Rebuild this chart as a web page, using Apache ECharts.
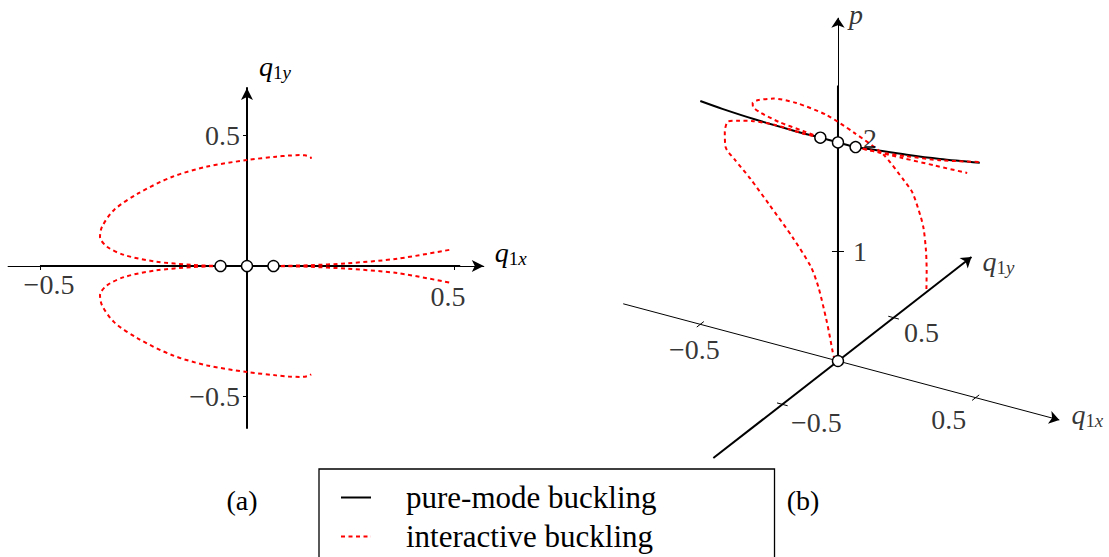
<!DOCTYPE html>
<html>
<head>
<meta charset="utf-8">
<script src="https://cdn.jsdelivr.net/npm/echarts@6/dist/echarts.min.js"></script>
<style>
  html, body { margin: 0; padding: 0; background: #fff; }
  #chart { width: 1109px; height: 557px; }
</style>
</head>
<body>
<div id="chart"></div>
<script>
// ---- data -------------------------------------------------------------
// Pure-mode path (q1y = 0): load p against q1x
const pureQx = [-0.50, -0.42, -0.30, -0.17, -0.064, 0.0, 0.064, 0.10, 0.25, 0.37, 0.515];
const pureP  = [2.043, 2.025, 2.008, 2.000, 2.000, 2.000, 2.000, 2.012, 2.055, 2.097, 2.160];

// Fundamental path along the load axis (q1x = q1y = 0)
const fundamentalP = [0, 2.52];

// Interactive paths, points are [q1x, q1y, p]
const interLeftUpper = [
  [-0.064, 0.000, 2.000], [-0.129, 0.004, 2.015], [-0.221, 0.017, 2.025],
  [-0.296, 0.042, 2.037], [-0.338, 0.074, 2.038], [-0.355, 0.112, 2.034],
  [-0.350, 0.151, 2.033], [-0.321, 0.215, 2.015], [-0.263, 0.278, 1.963],
  [-0.180, 0.342, 1.859], [-0.096, 0.381, 1.723], [0.000, 0.406, 1.569],
  [0.071, 0.419, 1.365], [0.100, 0.423, 1.270], [0.129, 0.425, 1.067],
  [0.140, 0.424, 0.965], [0.150, 0.420, 0.774], [0.154, 0.416, 0.597],
  [0.155, 0.411, 0.418]
];
const interLeftLower = [
  [-0.064, 0.000, 2.000], [-0.129, -0.004, 2.000], [-0.221, -0.017, 2.025],
  [-0.296, -0.042, 2.030], [-0.338, -0.074, 2.030], [-0.355, -0.112, 2.040],
  [-0.350, -0.151, 1.980], [-0.321, -0.215, 1.910], [-0.263, -0.278, 1.888],
  [-0.180, -0.342, 1.818], [-0.096, -0.381, 1.670], [0.000, -0.406, 1.451],
  [0.071, -0.419, 1.242], [0.100, -0.423, 1.078], [0.129, -0.425, 0.808],
  [0.140, -0.424, 0.677], [0.150, -0.420, 0.525], [0.155, -0.415, 0.450]
];
const interRightUpper = [
  [0.064, 0.000, 2.000], [0.150, 0.003, 2.008], [0.238, 0.010, 2.027],
  [0.363, 0.028, 2.057], [0.496, 0.064, 2.103]
];
const interRightLower = [
  [0.064, 0.000, 2.000], [0.150, -0.003, 2.011], [0.238, -0.010, 2.025],
  [0.363, -0.027, 2.053], [0.496, -0.066, 2.105]
];

// Bifurcation points on the pure-mode path, and the unloaded state
const bifurcationPoints = [[-0.064, 0, 2.0], [0.0, 0, 2.0], [0.064, 0, 2.0]];
const unloadedPoint = [0, 0, 0];

// Tick values
const planTicks = [-0.5, 0.5];
const loadTicks = [1, 2];

const seriesNames = ['pure-mode buckling', 'interactive buckling'];
const panelLabels = ['(a)', '(b)'];

// ---- view settings ------------------------------------------------------
const FONT = '"Liberation Serif", "DejaVu Serif", serif';
const RED = '#ff0000';
const BLACK = '#000000';
const DASH = [4, 3.5];

// Oblique view of (q1x, q1y, p) onto the drawing plane, in load units
const VIEW = { qx: [2.519, -0.671], qy: [1.018, 0.793], p: [0, 1] };
function project(q) {
  return [
    q[0] * VIEW.qx[0] + q[1] * VIEW.qy[0] + q[2] * VIEW.p[0],
    q[0] * VIEW.qx[1] + q[1] * VIEW.qy[1] + q[2] * VIEW.p[1]
  ];
}
function unit(v) { const n = Math.hypot(v[0], v[1]); return [v[0] / n, v[1] / n]; }
function segment(q, dir, half) {
  const c = project(q);
  return [[c[0] - dir[0] * half, c[1] - dir[1] * half], [c[0] + dir[0] * half, c[1] + dir[1] * half]];
}
const fmt = v => (v < 0 ? '\u2212' : '') + String(Math.abs(v));

// 3D axis extents
const EXT = { qx: [-0.78, 0.804], qy: [-1.12, 1.2], p: [0, 3.14] };

const mathRich = {
  m: { fontFamily: FONT, fontSize: 28, fontStyle: 'italic', lineHeight: 28, padding: [0, 0, 3, 0], color: BLACK },
  s: { fontFamily: FONT, fontSize: 19, lineHeight: 19, verticalAlign: 'bottom', color: BLACK },
  v: { fontFamily: FONT, fontSize: 19, fontStyle: 'italic', lineHeight: 19, verticalAlign: 'bottom', color: BLACK }
};

// ---- series -------------------------------------------------------------
const series = [];
const redStyle = { color: RED, width: 2, type: DASH };
const blackStyle = { color: BLACK, width: 2 };

function textSeries(xi, items) {
  return {
    type: 'scatter', xAxisIndex: xi, yAxisIndex: xi, symbolSize: 1,
    itemStyle: { color: 'transparent' }, z: 6, silent: true,
    data: items.map(d => ({
      value: d.value,
      label: {
        show: true, position: 'inside', offset: d.offset, formatter: d.text,
        fontFamily: FONT, fontSize: 28, color: BLACK, align: d.align || 'center', verticalAlign: 'middle',
        rich: mathRich
      }
    }))
  };
}

// panel (a): plan view q1x-q1y
series.push({
  name: seriesNames[0], type: 'line', xAxisIndex: 0, yAxisIndex: 0,
  data: pureQx.map(x => [x, 0]), symbol: 'none', itemStyle: { color: BLACK },
  lineStyle: blackStyle, z: 3, silent: true
});
[interLeftUpper, interLeftLower, interRightUpper, interRightLower].forEach(branch => {
  series.push({
    name: seriesNames[1], type: 'line', xAxisIndex: 0, yAxisIndex: 0,
    data: branch.map(q => [q[0], q[1]]), symbol: 'none', smooth: 0.3, itemStyle: { color: RED },
    lineStyle: redStyle, z: 4, silent: true
  });
});
series.push({
  type: 'scatter', xAxisIndex: 0, yAxisIndex: 0,
  data: bifurcationPoints.map(q => [q[0], q[1]]),
  symbol: 'circle', symbolSize: 11,
  itemStyle: { color: '#fff', borderColor: BLACK, borderWidth: 1.4, opacity: 1 }, z: 10, silent: true
});
const aLabelOffsets = { x: [[9, 18], [-6, 30]], y: [[-7, 0], [-7, 0]] };
series.push(textSeries(0, []
  .concat(planTicks.map((t, i) => ({ value: [t, 0], text: fmt(t), offset: aLabelOffsets.x[i] })))
  .concat(planTicks.map((t, i) => ({ value: [0, t], text: fmt(t), offset: aLabelOffsets.y[i], align: 'right' })))
));

// panel (b): oblique view
const axisLines = [
  { coords: [project([EXT.qx[0], 0, 0]), project([EXT.qx[1], 0, 0])], lineStyle: { width: 1 } },
  { coords: [project([0, EXT.qy[0], 0]), project([0, EXT.qy[1], 0])], lineStyle: { width: 2 } },
  { coords: [project([0, 0, EXT.p[0]]), project([0, 0, EXT.p[1]])], lineStyle: { width: 1 } }
];
series.push({
  type: 'lines', coordinateSystem: 'cartesian2d', xAxisIndex: 1, yAxisIndex: 1,
  data: axisLines, symbol: ['none', 'arrow'], symbolSize: 10,
  lineStyle: { color: BLACK, width: 1, opacity: 1, curveness: 0 }, z: 2, silent: true
});

const pxPerUnit = 109.3;
const qyDir = unit(VIEW.qy), qxDir = unit(VIEW.qx);
const tickSegs = []
  .concat(planTicks.map(t => ({ coords: segment([t, 0, 0], qyDir, 4.5 / pxPerUnit) })))
  .concat(planTicks.map(t => ({ coords: segment([0, t, 0], qxDir, 5.5 / pxPerUnit) })))
  .concat(loadTicks.map(t => ({ coords: segment([0, 0, t], [1, 0], 6 / pxPerUnit) })));
series.push({
  type: 'lines', coordinateSystem: 'cartesian2d', xAxisIndex: 1, yAxisIndex: 1,
  data: tickSegs, symbol: ['none', 'none'],
  lineStyle: { color: BLACK, width: 1, opacity: 1, curveness: 0 }, z: 2, silent: true
});

series.push({
  name: seriesNames[0], type: 'line', xAxisIndex: 1, yAxisIndex: 1,
  data: fundamentalP.map(p => project([0, 0, p])), symbol: 'none', itemStyle: { color: BLACK },
  lineStyle: blackStyle, z: 3, silent: true
});
series.push({
  name: seriesNames[0], type: 'line', xAxisIndex: 1, yAxisIndex: 1,
  data: pureQx.map((x, i) => project([x, 0, pureP[i]])), symbol: 'none', smooth: 0.3,
  itemStyle: { color: BLACK }, lineStyle: blackStyle, z: 3, silent: true
});
[interLeftUpper, interLeftLower, interRightUpper, interRightLower].forEach(branch => {
  series.push({
    name: seriesNames[1], type: 'line', xAxisIndex: 1, yAxisIndex: 1,
    data: branch.map(project), symbol: 'none', smooth: 0.25, itemStyle: { color: RED },
    lineStyle: redStyle, z: 4, silent: true
  });
});
series.push({
  type: 'scatter', xAxisIndex: 1, yAxisIndex: 1,
  data: bifurcationPoints.concat([unloadedPoint]).map(project),
  symbol: 'circle', symbolSize: 11,
  itemStyle: { color: '#fff', borderColor: BLACK, borderWidth: 1.4, opacity: 1 }, z: 10, silent: true
});

// tick labels and axis names in panel (b), placed beside their tick or arrow tip
const bLabelOffsets = {
  qx: [[-6, 25], [-27, 22]],
  qy: [[34, 18], [28, 15]],
  p: [[22, 0], [32, -4]]
};
series.push(textSeries(1, []
  .concat(planTicks.map((t, i) => ({ value: project([t, 0, 0]), text: fmt(t), offset: bLabelOffsets.qx[i] })))
  .concat(planTicks.map((t, i) => ({ value: project([0, t, 0]), text: fmt(t), offset: bLabelOffsets.qy[i] })))
  .concat(loadTicks.map((t, i) => ({ value: project([0, 0, t]), text: fmt(t), offset: bLabelOffsets.p[i] })))
  .concat([
    { value: project([EXT.qx[1], 0, 0]), text: '{m|q}{s|1}{v|x}', offset: [28, -4] },
    { value: project([0, EXT.qy[1], 0]), text: '{m|q}{s|1}{v|y}', offset: [27, 6] },
    { value: project([0, 0, EXT.p[1]]), text: '{m|p}', offset: [18, -2] }
  ])
));

// ---- option -------------------------------------------------------------
// legend keys: a solid stroke and a dashed stroke, each 30 wide
const legendKeys = [
  'path://M0,0H30V2H0Z',
  'path://M0,0H4V2H0ZM7.5,0H11.5V2H7.5ZM15,0H19V2H15ZM22.5,0H26.5V2H22.5ZM29.9,0H30V2H29.9Z'
];
const option = {
  animation: false,
  backgroundColor: '#ffffff',
  textStyle: { fontFamily: FONT, color: BLACK },
  title: panelLabels.map((t, i) => ({
    text: t, left: [237, 798][i], top: 481, textAlign: 'center',
    textStyle: { fontFamily: FONT, fontSize: 28, fontWeight: 'normal', color: BLACK }
  })),
  legend: {
    data: seriesNames.map((n, i) => ({ name: n, icon: legendKeys[i], itemStyle: { color: [BLACK, RED][i] } })),
    orient: 'vertical', left: 319, top: 469, height: 200,
    padding: [13, 118, 30, 22], itemGap: 8, itemWidth: 30, itemHeight: 14,
    borderColor: BLACK, borderWidth: 1.3, selectedMode: false,
    textStyle: { fontFamily: FONT, fontSize: 31, color: BLACK, lineHeight: 30, padding: [0, 0, 0, 30] }
  },
  grid: [
    { left: 8.1, top: 88, width: 475.7, height: 340.1, outerBoundsMode: 'none', containLabel: false },
    { left: 597.5, top: 0.3, width: 502.8, height: 470, outerBoundsMode: 'none', containLabel: false }
  ],
  xAxis: [
    {
      type: 'value', gridIndex: 0, min: -0.577, max: 0.572,
      name: '{m|q}{s|1}{v|x}', nameLocation: 'end', nameGap: 11,
      nameTextStyle: { align: 'left', verticalAlign: 'middle', padding: [0, 0, 24, 0], rich: mathRich },
      axisLine: { onZero: true, symbol: ['none', 'arrow'], symbolSize: [9, 12], lineStyle: { color: BLACK, width: 1 } },
      axisTick: { show: true, customValues: planTicks, length: 4, lineStyle: { color: BLACK, width: 1 } },
      axisLabel: { show: false },
      splitLine: { show: false }
    },
    { type: 'value', gridIndex: 1, min: -2.2, max: 2.4, show: false }
  ],
  yAxis: [
    {
      type: 'value', gridIndex: 0, min: -0.621, max: 0.682,
      name: '{m|q}{s|1}{v|y}', nameLocation: 'end', nameGap: 6,
      nameTextStyle: { align: 'left', padding: [0, 0, 0, 12], rich: mathRich },
      axisLine: { onZero: true, symbol: ['none', 'arrow'], symbolSize: [9, 12], lineStyle: { color: BLACK, width: 2 } },
      axisTick: { show: true, customValues: planTicks, length: 4, lineStyle: { color: BLACK, width: 1 } },
      axisLabel: { show: false },
      splitLine: { show: false }
    },
    { type: 'value', gridIndex: 1, min: -1.0, max: 3.3, show: false }
  ],
  series: series
};

const chart = echarts.init(document.getElementById('chart'), null, { renderer: 'svg' });
chart.setOption(option);
</script>
</body>
</html>
